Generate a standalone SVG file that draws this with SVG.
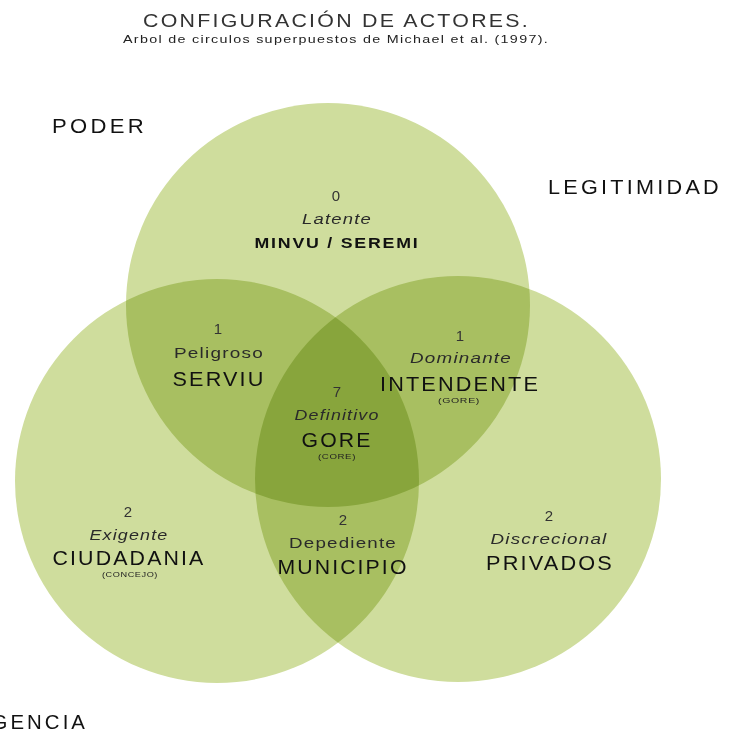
<svg xmlns="http://www.w3.org/2000/svg" width="732" height="734" viewBox="0 0 732 734">
<style>
text{font-family:"Liberation Sans",Arial,sans-serif;fill:#1a1a1a;text-anchor:middle}
.circ{fill:#cfdd9d;mix-blend-mode:multiply}
.title{font-size:19px;fill:#333;letter-spacing:2px}
.sub{font-size:11px;fill:#222;letter-spacing:1px}
.axis{font-size:20px;fill:#111;text-anchor:start;letter-spacing:3px}
.num{font-size:15px;fill:#333}
.role{font-size:15.5px;fill:#2a2a2a;letter-spacing:1px}
.it{font-style:italic}
.name{font-size:20px;fill:#111;letter-spacing:2px}
.nameb{font-size:15px;font-weight:bold;fill:#111;letter-spacing:1.5px}
.small{font-size:8px;fill:#222;letter-spacing:0.5px}
</style>
<rect width="732" height="734" fill="#fff"/>
<g id="circles">
<circle class="circ" cx="328" cy="305" r="202"/>
<circle class="circ" cx="217" cy="481" r="202"/>
<circle class="circ" cx="458" cy="479" r="203"/>
</g>
<g id="titles">
<text class="title" x="336.5" y="27" textLength="387" lengthAdjust="spacingAndGlyphs">CONFIGURACIÓN DE ACTORES.</text>
<text class="sub" x="336" y="43" textLength="426" lengthAdjust="spacingAndGlyphs">Arbol de circulos superpuestos de Michael et al. (1997).</text>
</g>
<g id="axes">
<text class="axis" x="52" y="133" textLength="95" lengthAdjust="spacingAndGlyphs">PODER</text>
<text class="axis" x="548" y="194" textLength="174" lengthAdjust="spacingAndGlyphs">LEGITIMIDAD</text>
<text class="axis" x="-44" y="729" textLength="132" lengthAdjust="spacingAndGlyphs">URGENCIA</text>
</g>
<g id="node-minvu">
<text class="num" x="336" y="201">0</text>
<text class="role it" x="337" y="224" textLength="70" lengthAdjust="spacingAndGlyphs">Latente</text>
<text class="nameb" x="337" y="248" textLength="165" lengthAdjust="spacingAndGlyphs">MINVU / SEREMI</text>
</g>
<g id="node-serviu">
<text class="num" x="218" y="334">1</text>
<text class="role" x="219" y="358" textLength="90" lengthAdjust="spacingAndGlyphs">Peligroso</text>
<text class="name" x="219" y="386" textLength="93" lengthAdjust="spacingAndGlyphs">SERVIU</text>
</g>
<g id="node-intendente">
<text class="num" x="460" y="341">1</text>
<text class="role it" x="461" y="363" textLength="102" lengthAdjust="spacingAndGlyphs">Dominante</text>
<text class="name" x="460" y="391" textLength="160" lengthAdjust="spacingAndGlyphs">INTENDENTE</text>
<text class="small" x="459" y="403" textLength="42" lengthAdjust="spacingAndGlyphs">(GORE)</text>
</g>
<g id="node-gore">
<text class="num" x="337" y="397">7</text>
<text class="role it" x="337" y="420" textLength="85" lengthAdjust="spacingAndGlyphs">Definitivo</text>
<text class="name" x="337" y="447" textLength="71" lengthAdjust="spacingAndGlyphs">GORE</text>
<text class="small" x="337" y="459" textLength="38" lengthAdjust="spacingAndGlyphs">(CORE)</text>
</g>
<g id="node-ciudadania">
<text class="num" x="128" y="517">2</text>
<text class="role it" x="129" y="540" textLength="79" lengthAdjust="spacingAndGlyphs">Exigente</text>
<text class="name" x="129" y="565" textLength="153" lengthAdjust="spacingAndGlyphs">CIUDADANIA</text>
<text class="small" x="130" y="577" textLength="56" lengthAdjust="spacingAndGlyphs">(CONCEJO)</text>
</g>
<g id="node-municipio">
<text class="num" x="343" y="525">2</text>
<text class="role" x="343" y="548" textLength="108" lengthAdjust="spacingAndGlyphs">Depediente</text>
<text class="name" x="343" y="574" textLength="131" lengthAdjust="spacingAndGlyphs">MUNICIPIO</text>
</g>
<g id="node-privados">
<text class="num" x="549" y="521">2</text>
<text class="role it" x="549" y="544" textLength="117" lengthAdjust="spacingAndGlyphs">Discrecional</text>
<text class="name" x="550" y="570" textLength="128" lengthAdjust="spacingAndGlyphs">PRIVADOS</text>
</g>
<g id="connectors"></g>
</svg>
